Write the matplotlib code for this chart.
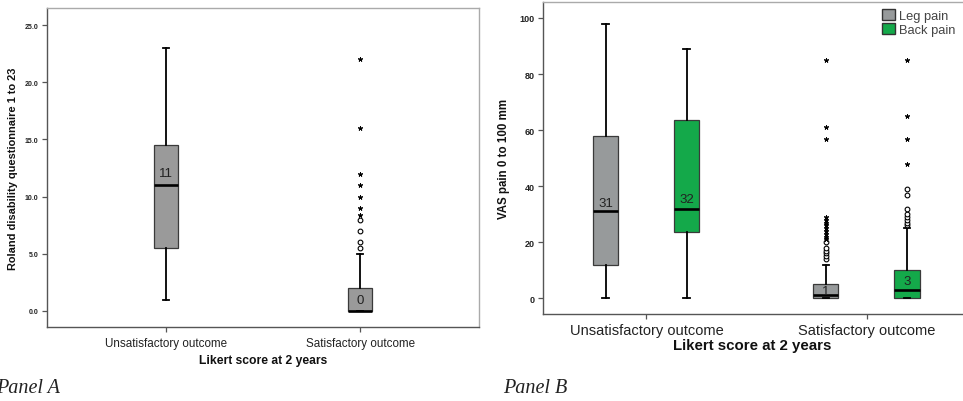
import matplotlib
matplotlib.use("Agg")
import matplotlib.pyplot as plt
from matplotlib.patches import Patch

plt.rcParams['font.family'] = ['Liberation Sans', 'DejaVu Sans']

# ---------------- data ----------------
categories = ["Unsatisfactory outcome", "Satisfactory outcome"]

# Panel A: Roland disability questionnaire
a_whislo = [1.0, 0.0]
a_q1 = [5.5, 0.0]
a_med = [11.0, 0.0]
a_q3 = [14.5, 2.0]
a_whishi = [23.0, 5.0]
a_circles = [[], [5.5, 6.0, 7.0, 8.0]]
a_stars = [[], [8.4, 9.0, 10.0, 11.0, 12.0, 16.0, 22.0]]
a_yticks = [0.0, 5.0, 10.0, 15.0, 20.0, 25.0]

# Panel B: VAS pain (leg / back) per outcome group
series = ["Leg pain", "Back pain"]
b_whislo = {"Leg pain": [0, 0], "Back pain": [0, 0]}
b_q1 = {"Leg pain": [12, 0], "Back pain": [23.5, 0]}
b_med = {"Leg pain": [31, 1], "Back pain": [32, 3]}
b_q3 = {"Leg pain": [58, 5], "Back pain": [63.5, 10]}
b_whishi = {"Leg pain": [98, 12], "Back pain": [89, 25]}
b_circles = {"Leg pain": [[], [14, 15, 16, 17, 18, 20]],
             "Back pain": [[], [26, 27, 28, 29, 30, 32, 37, 39]]}
b_stars = {"Leg pain": [[], [21, 22, 23, 24, 25, 26, 27, 28, 29, 57, 61, 85]],
           "Back pain": [[], [48, 57, 65, 85]]}
b_yticks = [0, 20, 40, 60, 80, 100]

# ---------------- style ----------------
GRAY = "#9a9a9a"
GRAY_B = "#979a9b"
GREEN = "#14a94a"
W, H = 963, 402

fig = plt.figure(figsize=(W / 100, H / 100), dpi=100)


def ax_rect(l, t, r, b):
    return [l / W, 1 - b / H, (r - l) / W, (b - t) / H]


def draw_group(ax, positions, whislo, q1, med, q3, whishi, circles, stars,
               color, width, capw, label_offsets, label_size):
    stats = []
    for i in range(len(positions)):
        stats.append(dict(whislo=whislo[i], q1=q1[i], med=med[i], q3=q3[i],
                          whishi=whishi[i], fliers=[]))
    ax.bxp(stats, positions=positions, widths=width, patch_artist=True,
           showfliers=False, capwidths=capw, manage_ticks=False,
           boxprops=dict(facecolor=color, edgecolor="#3a3a3a", linewidth=0.9),
           medianprops=dict(color="black", linewidth=1.9),
           whiskerprops=dict(color="black", linewidth=1.3),
           capprops=dict(color="black", linewidth=1.3))
    for i, p in enumerate(positions):
        if circles[i]:
            ax.plot([p] * len(circles[i]), circles[i], linestyle="none",
                    marker="o", markersize=3.4, markerfacecolor="white",
                    markeredgecolor="black", markeredgewidth=0.8, zorder=4)
        if stars[i]:
            ax.plot([p] * len(stars[i]), stars[i], linestyle="none",
                    marker=(5, 2, 0), markersize=3.4, color="black",
                    markeredgewidth=0.7, zorder=4)
        ax.annotate(f"{med[i]:g}", (p, med[i]), xytext=(0, label_offsets[i]),
                    textcoords="offset points", ha="center", va="center",
                    fontsize=label_size, color="#222222", zorder=5)


def style_axes(ax):
    ax.spines["left"].set_color("#555555")
    ax.spines["bottom"].set_color("#555555")
    ax.spines["top"].set_color("#aaaaaa")
    ax.spines["right"].set_color("#aaaaaa")
    for s in ax.spines.values():
        s.set_linewidth(1.0)
    ax.tick_params(axis="both", direction="out", length=3.5, width=0.9,
                   color="#555555")


# ---------------- Panel A ----------------
axA = fig.add_axes(ax_rect(47, 9, 479, 328))
posA = [0, 1]
draw_group(axA, posA, a_whislo, a_q1, a_med, a_q3, a_whishi, a_circles,
           a_stars, GRAY, 0.122, 0.03, [9, 7.6], 9.5)
axA.set_xlim(-0.61, 1.61)
axA.set_ylim(-1.4, 26.5)
axA.set_yticks(a_yticks)
axA.set_yticklabels([f"{v:.1f}" for v in a_yticks], fontsize=5,
                    fontweight="bold", color="#222222")
axA.set_xticks(posA)
axA.set_xticklabels(categories, fontsize=8.4, color="#222222")
axA.tick_params(axis="x", pad=4)
axA.tick_params(axis="y", pad=2.5)
axA.set_xlabel("Likert score at 2 years", fontsize=8.7, fontweight="bold",
               labelpad=3, color="#111111")
axA.set_ylabel("Roland disability questionnaire 1 to 23", fontsize=7.9,
               fontweight="bold", labelpad=5, color="#111111")
style_axes(axA)

# ---------------- Panel B ----------------
axB = fig.add_axes(ax_rect(543, 3, 962, 315))
posB = [0, 1]
offs = {"Leg pain": -0.185, "Back pain": 0.183}
colors = {"Leg pain": GRAY_B, "Back pain": GREEN}
lab_off = {"Leg pain": [6.3, 3.0], "Back pain": [6.9, 6.6]}
for s in series:
    pos = [p + offs[s] for p in posB]
    draw_group(axB, pos, b_whislo[s], b_q1[s], b_med[s], b_q3[s],
               b_whishi[s], b_circles[s], b_stars[s], colors[s], 0.114, 0.03,
               lab_off[s], 9.5)
axB.set_xlim(-0.47, 1.433)
axB.set_ylim(-5.6, 105.7)
axB.set_yticks(b_yticks)
axB.set_yticklabels([str(v) for v in b_yticks], fontsize=6.5,
                    fontweight="bold", color="#222222")
axB.set_xticks(posB)
axB.set_xticklabels(categories, fontsize=10.5, color="#222222")
axB.tick_params(axis="x", pad=3)
axB.tick_params(axis="y", pad=2.5)
axB.set_xlabel("Likert score at 2 years", fontsize=10.8, fontweight="bold",
               labelpad=1, color="#111111")
axB.set_ylabel("VAS pain 0 to 100 mm", fontsize=8.3, fontweight="bold",
               labelpad=7, color="#111111")
style_axes(axB)
axB.spines["right"].set_visible(False)

handles = [Patch(facecolor=colors[s], edgecolor="#333333", linewidth=1.0,
                 label=s) for s in series]
leg = axB.legend(handles=handles, loc="upper right",
                 bbox_to_anchor=(1.0, 1.0), frameon=False, fontsize=9.3,
                 handlelength=1.0, handleheight=0.9, handletextpad=0.3,
                 labelspacing=0.12, borderaxespad=0.15)
for t in leg.get_texts():
    t.set_color("#444444")

# ---------------- panel captions ----------------
fig.text(-4 / W, 1 - 393 / H, "Panel A", fontsize=14.5, style="italic",
         family=["Liberation Serif", "DejaVu Serif"], va="baseline",
         color="#222222")
fig.text(502.7 / W, 1 - 393 / H, "Panel B", fontsize=14.5, style="italic",
         family=["Liberation Serif", "DejaVu Serif"], va="baseline",
         color="#222222")

fig.savefig("out.png", dpi=100)
